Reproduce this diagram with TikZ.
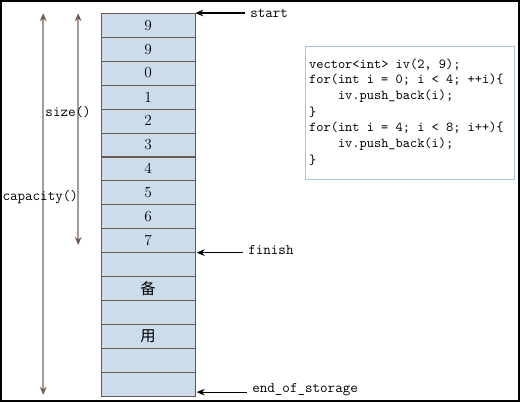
\documentclass[tikz,border=0pt]{standalone}
\usepackage{fontspec}
\newfontfamily\cjk{Noto Sans CJK SC}
\usetikzlibrary{arrows.meta,positioning}
\definecolor{cellfill}{HTML}{CCDCEB}
\definecolor{celledge}{HTML}{6A5850}
\definecolor{rangeline}{HTML}{A89A94}
\definecolor{rangehead}{HTML}{6E5A50}
\definecolor{codeedge}{HTML}{A8C4E0}
\tikzset{
  cell/.style={draw=celledge, fill=cellfill, minimum width=70.5pt, minimum height=17.9pt,
    inner sep=0pt, font=\fontsize{11.5}{12}\selectfont},
  spanarrow/.style={draw=rangeline, line width=1.4pt, {Stealth[length=6pt,width=5pt,color=rangehead]}-{Stealth[length=6pt,width=5pt,color=rangehead]}},
  pointer/.style={draw=black, line width=0.8pt, -{Stealth[length=6pt,width=5pt]}},
  lbl/.style={font=\ttfamily\fontsize{11}{12}\selectfont, inner sep=0pt},
  codeline/.style={font=\ttfamily\fontsize{10.3}{12}\selectfont, anchor=west, inner sep=0pt}
}
\begin{document}
\begin{tikzpicture}[x=0.75pt,y=-0.75pt]
  % frame
  \draw[line width=1.5pt] (0.75,0.75) rectangle (519.25,401.25);
  % vector cells
  \foreach \i/\val in {1/9,2/9,3/0,4/1,5/2,6/3,7/4,8/5,9/6,10/7,11/{},12/{\cjk 备},13/{},14/{\cjk 用},15/{},16/{}} {
    \node[cell] (c\i) at (148, {13+23.94*(\i-0.5)}) {\val};
  }
  % span arrows
  \coordinate (captop) at (43,13);
  \coordinate (capbot) at (43,395);
  \coordinate (sizetop) at (78,13);
  \coordinate (sizebot) at (78,245);
  \draw[spanarrow] (captop) -- (capbot);
  \draw[spanarrow] (sizetop) -- (sizebot);
  \node[lbl, anchor=west] (sizelbl) at (45,112) {size()};
  \node[lbl, anchor=west] (caplbl) at (2,197) {capacity()};
  % pointers
  \node[lbl, anchor=west] (start) at (250,13) {start};
  \node[lbl, anchor=west] (finish) at (248,250) {finish};
  \node[lbl, anchor=west] (eos) at (252,390) {end\_of\_storage};
  \coordinate (starthead) at (c1.north east);
  \coordinate (finishhead) at ([xshift=1pt]c10.south east);
  \coordinate (eoshead) at ([xshift=1pt,yshift=3pt]c16.south east);
  \draw[pointer] ([xshift=-4pt]start.west |- starthead) -- (starthead);
  \draw[pointer] ([xshift=-4pt]finish.west |- finishhead) -- (finishhead);
  \draw[pointer] ([xshift=-4pt]eos.west |- eoshead) -- (eoshead);
  % code
  \draw[codeedge, line width=0.8pt] (306,46) rectangle (515,179);
  \foreach \j/\txt in {0/{vector<int> iv(2, 9);},
                       1/{for(int i = 0; i < 4; ++i)\{},
                       2/{\ \ \ \ iv.push\_back(i);},
                       3/{\}},
                       4/{for(int i = 4; i < 8; i++)\{},
                       5/{\ \ \ \ iv.push\_back(i);},
                       6/{\}}} {
    \node[codeline] (code\j) at (309, {64+16*\j}) {\txt};
  }
\end{tikzpicture}
\end{document}
